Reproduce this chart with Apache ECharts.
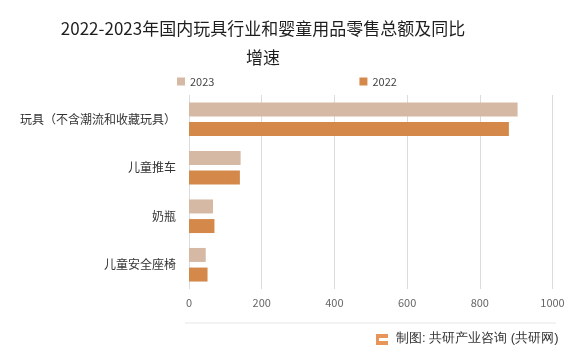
<!DOCTYPE html>
<html>
<head>
<meta charset="utf-8">
<script src="https://cdn.jsdelivr.net/npm/echarts@6/dist/echarts.min.js"></script>
<style>
html,body{margin:0;padding:0;background:#fff;}
#chart{width:570px;height:355px;}
</style>
</head>
<body>
<div id="chart"></div>
<script>
const titleText = '2022-2023年国内玩具行业和婴童用品零售总额及同比\n增速';
const categories = ['玩具（不含潮流和收藏玩具）', '儿童推车', '奶瓶', '儿童安全座椅'];
const seriesNames = ['2023', '2022'];
const values2023 = [904, 142, 66, 46];
const values2022 = [880, 140, 70, 51];
const xTicks = [0, 200, 400, 600, 800, 1000];
const sourceText = '制图: 共研产业咨询 (共研网)';

const chart = echarts.init(document.getElementById('chart'));
const font = '"Noto Sans CJK SC", "Microsoft YaHei", sans-serif';
chart.setOption({
  backgroundColor: '#ffffff',
  animation: false,
  textStyle: { fontFamily: font },
  title: {
    text: titleText,
    left: 258,
    top: 9,
    padding: 5,
    textAlign: 'center',
    textStyle: { fontSize: 17, fontWeight: 'normal', color: '#1e1e1e', lineHeight: 29, fontFamily: font }
  },
  legend: {
    data: seriesNames,
    left: 172,
    top: 71,
    icon: 'rect',
    itemWidth: 8,
    itemHeight: 8,
    itemGap: 145,
    textStyle: { fontSize: 11, color: '#444', fontFamily: font }
  },
  grid: { left: 189, right: 17.5, top: 95, bottom: 66, containLabel: false },
  xAxis: {
    type: 'value',
    min: xTicks[0],
    max: xTicks[xTicks.length - 1],
    interval: xTicks[1] - xTicks[0],
    axisLine: { show: false },
    axisTick: { show: false },
    axisLabel: { color: '#666', fontSize: 11, margin: 8, formatter: v => String(v) },
    splitLine: { lineStyle: { color: '#dcdcdc', width: 1 } }
  },
  yAxis: {
    type: 'category',
    data: categories,
    inverse: true,
    axisLine: { show: false },
    axisTick: { show: false },
    axisLabel: { color: '#333', fontSize: 12, margin: 13 }
  },
  series: [
    { name: seriesNames[0], type: 'bar', data: values2023, barWidth: 14, barGap: '40%',
      itemStyle: { color: '#d6b9a4' } },
    { name: seriesNames[1], type: 'bar', data: values2022, barWidth: 14, barGap: '40%',
      itemStyle: { color: '#d4894b' } }
  ],
  graphic: [
    { type: 'line', shape: { x1: 185, y1: 323, x2: 556, y2: 323 }, style: { stroke: '#e6e6e6', lineWidth: 1 } },
    { type: 'rect', shape: { x: 376, y: 334, width: 12, height: 11 }, style: { fill: '#e8955a' } },
    { type: 'rect', shape: { x: 379, y: 338, width: 9, height: 3 }, style: { fill: '#ffffff' } },
    { type: 'text', left: 396, top: 332, style: { text: sourceText, fontSize: 13, fill: '#333', font: '13px ' + font } }
  ]
});
</script>
</body>
</html>
